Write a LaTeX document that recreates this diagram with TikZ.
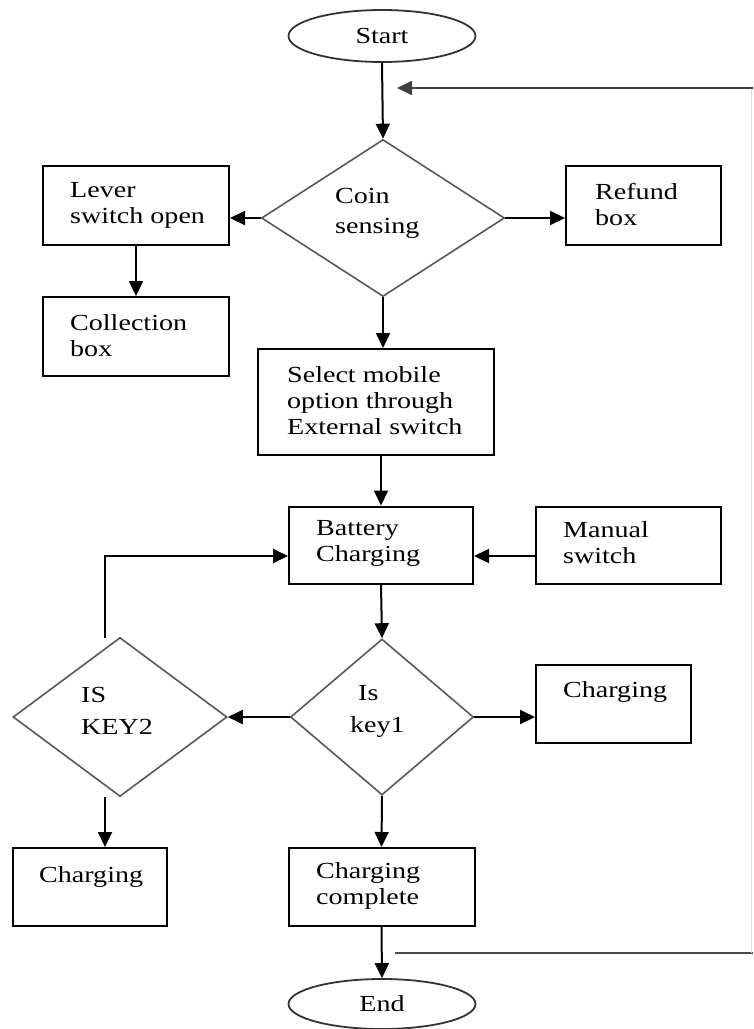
\documentclass[tikz,border=0pt]{standalone}
\usepackage{fontspec}
\setmainfont{Liberation Serif}[FakeStretch=1.22]
\usetikzlibrary{shapes.geometric,arrows.meta,calc}
\begin{document}
\begin{tikzpicture}[x=1pt,y=-1pt,
  every node/.style={font=\fontsize{23}{26}\selectfont},
  box/.style={draw=black,line width=2pt,rectangle,inner sep=0pt},
  oval/.style={draw=black!80,line width=1.8pt,ellipse,inner sep=0pt,minimum width=187pt,minimum height=52pt},
  dia/.style={draw=black!65,line width=1.6pt,diamond,inner sep=0pt},
  lbl/.style={anchor=west,align=left,inner sep=0pt},
  arr/.style={draw=black,line width=2pt,-{Triangle[length=15pt,width=14pt]}},
  fb/.style={draw=black!70,line width=1.8pt},
  fbarr/.style={draw=black!75,line width=1.8pt,-{Triangle[length=15pt,width=14pt]}}]
\useasboundingbox (0,0) rectangle (753,1029);
\fill[white] (0,0) rectangle (753,1029);

% shapes
\node[oval] (start) at (382,36) {Start};
\node[dia,minimum width=243pt,minimum height=157pt] (coin) at (383,218) {};
\node[box,minimum width=186pt,minimum height=79pt] (lever) at (136,205.5) {};
\node[box,minimum width=186pt,minimum height=79pt] (coll) at (136,336.5) {};
\node[box,minimum width=155pt,minimum height=79pt] (refund) at (643.5,205.5) {};
\node[box,minimum width=236pt,minimum height=106pt] (select) at (376,402) {};
\node[box,minimum width=184pt,minimum height=77pt] (batt) at (381,545) {};
\node[box,minimum width=185pt,minimum height=77pt] (manual) at (628.5,545) {};
\node[dia,minimum width=183pt,minimum height=156pt] (key1) at (382,717) {};
\node[dia,minimum width=214pt,minimum height=159pt] (key2) at (120,717) {};
\node[box,minimum width=155pt,minimum height=78pt] (chr) at (613.5,703.5) {};
\node[box,minimum width=154pt,minimum height=78pt] (chl) at (90,887) {};
\node[box,minimum width=186pt,minimum height=78pt] (comp) at (381.5,887) {};
\node[oval,minimum height=50pt] (end) at (382,1004) {End};

% labels
\node[lbl] (tcoin) at (335,213) {Coin\\[4pt]sensing};
\node[lbl] (tlever) at (70,205) {Lever\\switch open};
\node[lbl] (tcoll) at (70,335.5) {Collection\\box};
\node[lbl] (trefund) at (595,205) {Refund\\box};
\node[lbl] (tselect) at (287,401) {Select mobile\\option through\\External switch};
\node[lbl] (tbatt) at (316,543) {Battery\\Charging};
\node[lbl] (tmanual) at (563,543) {Manual\\switch};
\node[lbl] (tkey1) at (350,711) {\hspace{8pt}Is\\[6pt]key1};
\node[lbl] (tkey2) at (81,711) {IS\\[6pt]KEY2};
\node[lbl] (tchr) at (563,692) {Charging};
\node[lbl] (tchl) at (39,877) {Charging};
\node[lbl] (tcomp) at (316,886) {Charging\\complete};

% connectors
\draw[arr] (start.south) -- (coin.north);
\draw[arr] (coin.west) -- (lever.east |- coin.west);
\draw[arr] (coin.east) -- (refund.west |- coin.east);
\draw[arr] (lever.south) -- (coll.north);
\draw[arr] (coin.south) -- (select.north -| coin.south);
\draw[arr] (select.south -| batt.north) -- (batt.north);
\draw[arr] ($(manual.west)+(0,11)$) -- ($(batt.east)+(0,11)$);
\draw[arr] (batt.south) -- (key1.north);
\draw[arr] (key1.west) -- (key2.east);
\draw[arr] (key1.east) -- (chr.west |- key1.east);
\draw[arr] (key1.south) -- (comp.north);
\draw[arr] (comp.south) -- (end.north);
\coordinate (k2top) at (105,638);
\coordinate (k2bot) at (105,797);
\draw[arr] (k2top) |- ($(batt.west)+(0,11)$);
\draw[arr] (k2bot) -- (k2bot |- chl.north);

% feedback loop
\coordinate (fbL) at (395,953);
\coordinate (fbR) at (753,953);
\coordinate (fbRT) at (753,88);
\coordinate (fbTip) at (397,88);
\draw[fb] (fbL) -- (fbR);
\draw[draw=black!12,line width=1pt] (751.5,953) -- (751.5,88);
\draw[fbarr] (fbRT) -- (fbTip);
\end{tikzpicture}
\end{document}
